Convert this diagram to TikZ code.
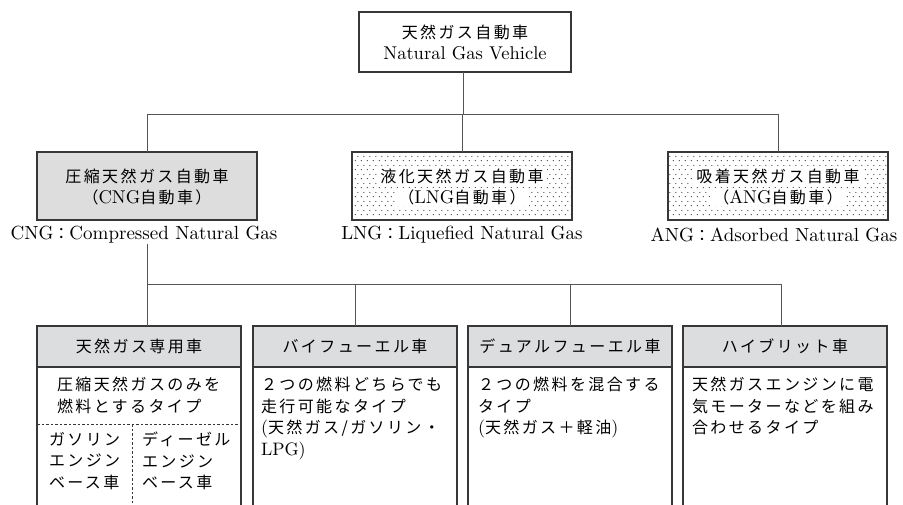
\documentclass[tikz,border=0pt]{standalone}
\usepackage{fontspec}
\setmainfont{lmroman10-regular.otf}
\newfontfamily\cjkfont[LetterSpace=15]{Noto Sans CJK JP}
\newcommand\J[1]{{\cjkfont\fontsize{16}{21.5}\selectfont #1}}
\newcommand\Lt[1]{{\rmfamily\fontsize{18}{21.5}\selectfont #1}}
\usetikzlibrary{patterns.meta}
\tikzdeclarepattern{
  name=sparsedots, type=uncolored,
  bounding box={(0pt,0pt) and (6pt,9pt)},
  tile size={(6pt,9pt)},
  code={\pgfpathcircle{\pgfqpoint{1.5pt}{1.5pt}}{0.65pt}
        \pgfpathcircle{\pgfqpoint{4.5pt}{6pt}}{0.65pt}
        \pgfusepath{fill}}
}
\definecolor{hdr}{RGB}{220,221,223}
\definecolor{cngfill}{RGB}{221,221,221}
\definecolor{boxline}{RGB}{55,55,55}
\definecolor{connline}{RGB}{85,85,85}
\begin{document}
\begin{tikzpicture}[x=1pt,y=-1pt,
  every node/.style={inner sep=0pt, outer sep=0pt},
  lat/.style={font=\fontsize{18.5}{21.5}\selectfont},
  box/.style={draw=boxline, line width=1.1pt},
  conn/.style={draw=connline, line width=0.9pt},
  midbox/.style={box, minimum width=220pt, minimum height=68pt, anchor=north west},
  dotbox/.style={midbox, pattern=sparsedots, pattern color=black},
  midtxt/.style={lat, inner xsep=3pt, inner ysep=1.5pt},
  whitetxt/.style={midtxt, fill=white},
  lowbox/.style={box, minimum width=204pt, minimum height=200pt, anchor=north west},
  hdrbox/.style={box, fill=hdr, minimum width=204pt, minimum height=41pt, anchor=north,
                 font=\cjkfont\fontsize{16}{21.5}\selectfont},
  body/.style={font=\fontsize{16}{21.5}\selectfont, align=left, anchor=north west},
]
\useasboundingbox (0,0) rectangle (903,504);

% top
\node[box, minimum width=212pt, minimum height=60pt, anchor=north west] (top) at (359,12) {};
\node[lat, align=center, font=\fontsize{18.5}{21}\selectfont] (toptxt) at (top.center) {\J{天然ガス自動車}\\Natural Gas Vehicle};

% middle boxes
\node[midbox, fill=cngfill] (cng) at (37,152) {};
\node[dotbox] (lng) at (352,152) {};
\node[dotbox] (ang) at (668,152) {};

\node[midtxt] (cng1) at (147,176) {\J{圧縮天然ガス自動車}};
\node[midtxt] (cng2) at (147,197) {\J{（}CNG\J{自動車）}};
\node[whitetxt] (lng1) at (462,176) {\J{液化天然ガス自動車}};
\node[whitetxt] (lng2) at (462,197) {\J{（}LNG\J{自動車）}};
\node[whitetxt] (ang1) at (778,176) {\J{吸着天然ガス自動車}};
\node[whitetxt] (ang2) at (778,197) {\J{（}ANG\J{自動車）}};

\node[lat, font=\fontsize{19}{21.5}\selectfont] (cnglab) at (144,235) {CNG\J{：}Compressed Natural Gas};
\node[lat, font=\fontsize{19}{21.5}\selectfont] (lnglab) at (462,235) {LNG\J{：}Liquefied Natural Gas};
\node[lat, font=\fontsize{19}{21.5}\selectfont] (anglab) at (774,235) {ANG\J{：}Adsorbed Natural Gas};

% upper connectors
\coordinate (bus) at (463,114);
\draw[conn] (top.south -| bus) -- (bus);
\draw[conn] (cng.north) -- (cng.north |- bus) -- (ang.north |- bus) -- (ang.north);
\draw[conn] (lng.north |- bus) -- (lng.north);

% lower boxes
\node[lowbox] (b1) at (37,326) {};
\node[lowbox] (b2) at (253,326) {};
\node[lowbox] (b3) at (468,326) {};
\node[lowbox] (b4) at (683,326) {};
\node[hdrbox] (h1) at (b1.north) {天然ガス専用車};
\node[hdrbox] (h2) at (b2.north) {バイフューエル車};
\node[hdrbox] (h3) at (b3.north) {デュアルフューエル車};
\node[hdrbox] (h4) at (b4.north) {ハイブリット車};

% lower connectors
\coordinate (bus2) at (147,284);
\coordinate (c4) at (781,284);
\draw[conn] (cnglab.south -| bus2) -- (bus2 |- h1.north);
\draw[conn] (bus2) -- (c4) -- (c4 |- h4.north);
\draw[conn] (bus2 -| h2.north) -- (h2.north);
\draw[conn] (bus2 -| h3.north) -- (h3.north);

% box 1 contents
\node[body] (t1) at (57,377) {\J{圧縮天然ガスのみを}\\\J{燃料とするタイプ}};
\coordinate (dl) at (37,424);
\coordinate (dv) at (132,424);
\draw[draw=boxline, line width=0.8pt, dash pattern=on 2.5pt off 2pt] (dl) -- (dl -| b1.east);
\draw[draw=boxline, line width=0.8pt, dash pattern=on 2.5pt off 2pt] (dv) -- (dv |- b1.south);
\node[body] (t1a) at (49,432) {\J{ガソリン}\\\J{エンジン}\\\J{ベース車}};
\node[body] (t1b) at (142,432) {\J{ディーゼル}\\\J{エンジン}\\\J{ベース車}};

% box 2-4 contents
\node[body] (t2) at (261,377) {\J{２つの燃料どちらでも}\\\J{走行可能なタイプ}\\\Lt{(}\J{天然ガス/ガソリン・}\\\Lt{LPG)}};
\node[body] (t3) at (478,377) {\J{２つの燃料を混合する}\\\J{タイプ}\\\Lt{(}\J{天然ガス＋軽油}\Lt{)}};
\node[body] (t4) at (692,377) {\J{天然ガスエンジンに電}\\\J{気モーターなどを組み}\\\J{合わせるタイプ}};
\end{tikzpicture}
\end{document}
